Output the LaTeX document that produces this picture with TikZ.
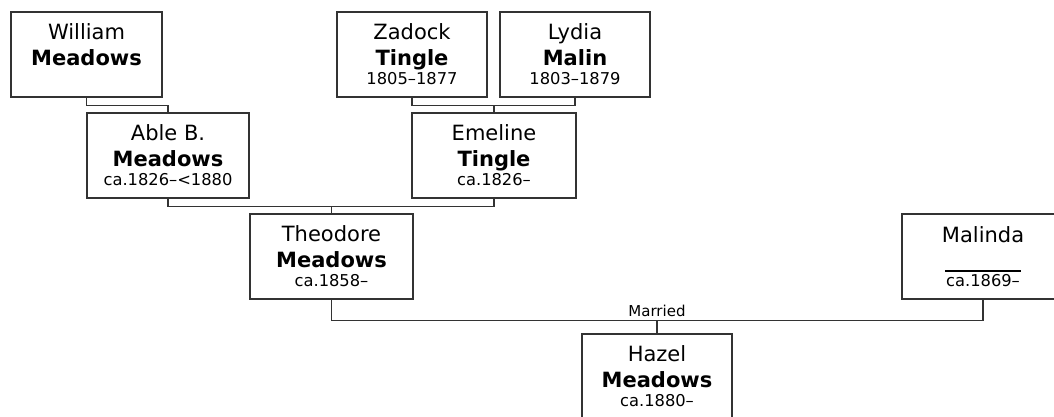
\documentclass[tikz,border=0pt]{standalone}
\usepackage{fontspec}
\setmainfont{DejaVu Sans}
\usetikzlibrary{calc}
\tikzset{
  box/.style={draw=black!80, line width=1.2pt, fill=white, rectangle, inner sep=0pt, minimum height=85pt},
  wide/.style={minimum width=#1},
  namefont/.style={font=\fontsize{21}{25}\selectfont, inner sep=0pt, anchor=base, text=black},
  surfont/.style={font=\fontsize{21}{25}\selectfont\bfseries, inner sep=0pt, anchor=base, text=black},
  datefont/.style={font=\fontsize{16.3}{19}\selectfont, inner sep=0pt, anchor=base, text=black},
  conn/.style={draw=black!80, line width=1.2pt},
  marfont/.style={font=\fontsize{15}{18}\selectfont, inner sep=0pt, anchor=base, text=black},
}
\newcommand{\personcard}[7]{%
  \node[box, wide=#4] (#1) at (#2,#3) {};
  \node[namefont] (#1-a) at ([yshift=-28pt]#1.north) {#5};
  \node[surfont] (#1-b) at ([yshift=-54pt]#1.north) {#6};
  \node[datefont] (#1-c) at ([yshift=-73pt]#1.north) {#7};
}
\begin{document}
\begin{tikzpicture}[x=1pt,y=-1pt]
\useasboundingbox (0,0) rectangle (1054,416);
\clip (0,0) rectangle (1054,416);
\fill[white] (0,0) rectangle (1054,416);
% people
\personcard{william}{86.5}{54.5}{151pt}{William}{Meadows}{}
\personcard{able}{168}{155.5}{162pt}{Able B.}{Meadows}{ca.1826–<1880}
\personcard{zadock}{412}{54.5}{150pt}{Zadock}{Tingle}{1805–1877}
\personcard{lydia}{575}{54.5}{150pt}{Lydia}{Malin}{1803–1879}
\personcard{emeline}{494}{155.5}{164pt}{Emeline}{Tingle}{ca.1826–}
\personcard{theodore}{331.5}{256.5}{163pt}{Theodore}{Meadows}{ca.1858–}
\personcard{hazel}{657}{376.5}{150pt}{Hazel}{Meadows}{ca.1880–}
% Malinda (no surname: a blank rule)
\node[box, wide=162pt] (malinda) at (983,256.5) {};
\node[namefont] (malinda-a) at ([yshift=-29pt]malinda.north) {Malinda};
\node[inner sep=0pt, anchor=base, text=black] (malinda-b) at ([yshift=-58.5pt]malinda.north) {\rule{76pt}{1.6pt}};
\node[datefont] (malinda-c) at ([yshift=-73pt]malinda.north) {ca.1869–};
% connectors
\draw[conn] (william.south) -- ++(0,8) -| (able.north);
\draw[conn] (zadock.south) -- ++(0,8) coordinate (zl) -| (lydia.south);
\draw[conn] (emeline.north) -- (emeline.north |- zl);
\draw[conn] (able.south) -- ++(0,8) coordinate (ae) -| (emeline.south);
\draw[conn] (theodore.north) -- (theodore.north |- ae);
\draw[conn] (theodore.south) -- ++(0,21) coordinate (tm) -| (malinda.south);
\draw[conn] (hazel.north) -- (hazel.north |- tm);
\node[marfont] (married) at ([yshift=4pt]hazel.north |- tm) {Married};
\end{tikzpicture}
\end{document}
